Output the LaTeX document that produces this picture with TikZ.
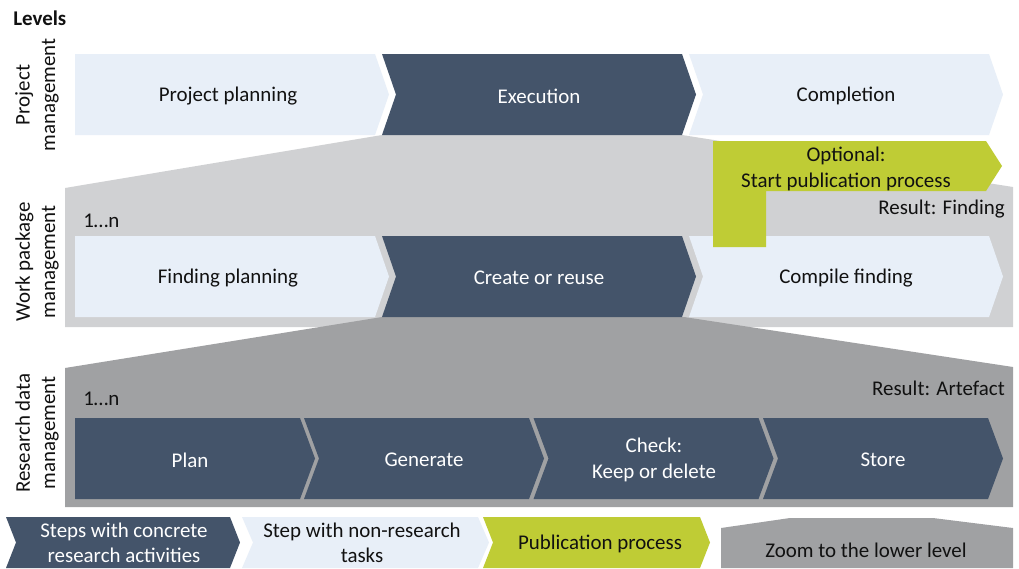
\documentclass[tikz,border=0pt]{standalone}
\usepackage{fontspec}
\setmainfont{Carlito}
\definecolor{darkblue}{HTML}{44546A}
\definecolor{lightblue}{HTML}{E8EFF8}
\definecolor{lime}{HTML}{BFCC35}
\definecolor{grayone}{HTML}{D0D1D3}
\definecolor{graytwo}{HTML}{A0A1A3}
\definecolor{inkc}{HTML}{111111}
% notched chevron: x0, x1, ytop, ybot, depth
\newcommand{\chevpath}[5]{(#1,#3) -- (#2,#3) -- ({#2+#5},{(#3+#4)/2}) -- (#2,#4) -- (#1,#4) -- ({#1+#5},{(#3+#4)/2}) -- cycle}
% flat-left chevron: x0, x1, ytop, ybot, depth
\newcommand{\chevflat}[5]{(#1,#3) -- (#2,#3) -- ({#2+#5},{(#3+#4)/2}) -- (#2,#4) -- (#1,#4) -- cycle}
\begin{document}
\begin{tikzpicture}[x=0.75pt,y=-0.75pt,
  txt/.style={font=\fontsize{15.7}{19}\selectfont, align=center, inner sep=0pt, text=inkc},
  wtxt/.style={txt, text=white},
  side/.style={txt, rotate=90},
  boldtxt/.style={font=\fontsize{15.7}{19}\selectfont\bfseries, inner sep=0pt, text=inkc},
  darkfill/.style={fill=darkblue},
  lightfill/.style={fill=lightblue},
  limefill/.style={fill=lime}]
\useasboundingbox (0,0) rectangle (1019,568);
\fill[white] (0,0) rectangle (1019,568);

% ---- backgrounds (zoom funnels) ----
\fill[grayone] (65,327) -- (65,188) -- (382,135) -- (682,135) -- (1013,187) -- (1013,327) -- cycle;
\fill[graytwo] (65,507) -- (65,368) -- (382,317) -- (684,317) -- (1013,367) -- (1013,507) -- cycle;

% ---- level 1 ----
\fill[lightfill] \chevflat{75}{375}{54}{135}{14};
\fill[darkfill] \chevpath{382}{682}{54}{135}{14};
\fill[lightfill] \chevpath{689}{989}{54}{135}{14};

% ---- level 2 ----
\fill[lightfill] \chevflat{75}{375}{236}{317}{14};
\fill[darkfill] \chevpath{382}{682}{236}{317}{14};
\fill[lightfill] \chevpath{689}{989}{236}{317}{14};

% ---- level 3 ----
\fill[darkfill] \chevflat{75}{300}{418}{499}{15};
\fill[darkfill] \chevpath{304}{529}{418}{499}{15};
\fill[darkfill] \chevpath{533.5}{758.5}{418}{499}{15};
\fill[darkfill] \chevpath{763}{988}{418}{499}{15};

% ---- optional publication (L-shape) ----
\fill[limefill] (713,141) -- (986,141) -- (1002,166) -- (986,191) -- (766,191) -- (766,247) -- (713,247) -- cycle;

% ---- legend ----
\fill[darkfill] \chevpath{6}{230}{517}{568}{10};
\fill[lightfill] \chevpath{242}{478}{517}{568}{11};
\fill[limefill] \chevpath{483}{700}{517}{568}{10};
\fill[graytwo] (721,568) -- (721,528) -- (790,518) -- (933,518) -- (1013,528) -- (1013,568) -- cycle;

% ---- texts ----
\node[boldtxt, anchor=west] (levels) at (13,18) {Levels};
\node[side] (lab1) at (37,95) {Project\\management};
\node[side] (lab2) at (37,262) {Work package\\management};
\node[side] (lab3) at (37,433) {Research data\\management};

\node[txt] (pp) at (228,96) {Project planning};
\node[wtxt] (ex) at (539,96) {Execution};
\node[txt] (co) at (846,96) {Completion};

\node[txt] (opt) at (846,169) {Optional:\\Start publication process};
\node[txt, anchor=east] (resf) at (1005,209) {Result: Finding};
\node[txt, anchor=west] (n1) at (83,221) {1\ldots n};

\node[txt] (fp) at (228,278) {Finding planning};
\node[wtxt] (cr) at (539,278) {Create or reuse};
\node[txt] (cf) at (846,278) {Compile finding};

\node[txt, anchor=east] (resa) at (1005,388) {Result: Artefact};
\node[txt, anchor=west] (n2) at (83,399) {1\ldots n};

\node[wtxt] (plan) at (190,460) {Plan};
\node[wtxt] (gen) at (424,460) {Generate};
\node[wtxt] (chk) at (654,460) {Check:\\Keep or delete};
\node[wtxt] (sto) at (883,460) {Store};

\node[wtxt] (lg1) at (124,543) {Steps with concrete\\research activities};
\node[txt] (lg2) at (362,543) {Step with non-research\\tasks};
\node[txt] (lg3) at (600,544) {Publication process};
\node[txt] (lg4) at (866,550) {Zoom to the lower level};
\end{tikzpicture}
\end{document}
